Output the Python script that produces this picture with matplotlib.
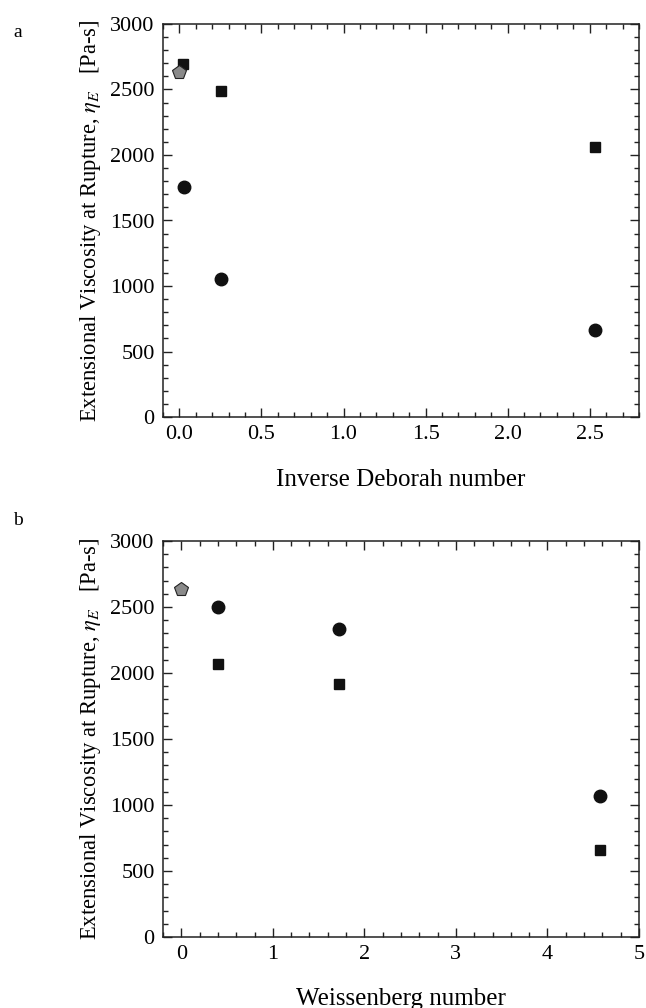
import matplotlib
matplotlib.use("Agg")
import matplotlib.pyplot as plt
from matplotlib.ticker import MultipleLocator

plt.rcParams['font.family'] = ['Liberation Serif', 'DejaVu Serif']
plt.rcParams['mathtext.fontset'] = 'stix'

# panel a: inverse Deborah number
de_sq_x = [0.024, 0.252, 2.53]
de_sq_y = [2695, 2491, 2061]
de_ci_x = [0.026, 0.256, 2.53]
de_ci_y = [1754, 1052, 662]
de_pe_x = [0.0]
de_pe_y = [2636]

# panel b: Weissenberg number
wi_ci_x = [0.40, 1.72, 4.57]
wi_ci_y = [2498, 2331, 1069]
wi_sq_x = [0.40, 1.72, 4.57]
wi_sq_y = [2066, 1917, 662]
wi_pe_x = [0.0]
wi_pe_y = [2639]

ylabel = r'Extensional Viscosity at Rupture, $\eta_E$   [Pa-s]'

fig = plt.figure(figsize=(6.46, 10.08), dpi=100)
ax1 = fig.add_axes([0.2523, 0.5863, 0.7368, 0.3899])
ax2 = fig.add_axes([0.2523, 0.0704, 0.7368, 0.3929])

dark = '#111111'


def style(ax, xmaj, xmin):
    ax.set_ylim(0, 3000)
    ax.yaxis.set_major_locator(MultipleLocator(500))
    ax.yaxis.set_minor_locator(MultipleLocator(100))
    ax.xaxis.set_major_locator(MultipleLocator(xmaj))
    ax.xaxis.set_minor_locator(MultipleLocator(xmin))
    ax.tick_params(which='both', direction='in', top=True, right=True,
                   labelsize=16, color='#222222')
    ax.tick_params(which='major', length=6.5, width=1.0, pad=6)
    ax.tick_params(which='minor', length=3.5, width=1.0)
    for s in ax.spines.values():
        s.set_linewidth(1.1)
        s.set_color('#222222')
    ax.set_ylabel(ylabel, fontsize=16.3, labelpad=5)


# panel a
ax1.plot(de_sq_x, de_sq_y, 's', color=dark, ms=7.5, ls='none')
ax1.plot(de_ci_x, de_ci_y, 'o', color=dark, ms=9, ls='none')
ax1.plot(de_pe_x, de_pe_y, 'p', mfc='#8a8a8a', mec='#222222', mew=0.8, ms=10, ls='none')
ax1.set_xlim(-0.1, 2.8)
style(ax1, 0.5, 0.1)
ax1.xaxis.set_major_formatter(plt.FormatStrFormatter('%.1f'))
ax1.set_xlabel('Inverse Deborah number', fontsize=18, labelpad=18)

# panel b
ax2.plot(wi_ci_x, wi_ci_y, 'o', color=dark, ms=9, ls='none')
ax2.plot(wi_sq_x, wi_sq_y, 's', color=dark, ms=7.5, ls='none')
ax2.plot(wi_pe_x, wi_pe_y, 'p', mfc='#8a8a8a', mec='#222222', mew=0.8, ms=10, ls='none')
ax2.set_xlim(-0.2, 5)
style(ax2, 1, 0.2)
ax2.set_xlabel('Weissenberg number', fontsize=18, labelpad=17)

fig.text(0.02, 0.968, 'a', fontsize=14, va='center')
fig.text(0.02, 0.484, 'b', fontsize=14, va='center')

fig.savefig('out.png', dpi=100)
